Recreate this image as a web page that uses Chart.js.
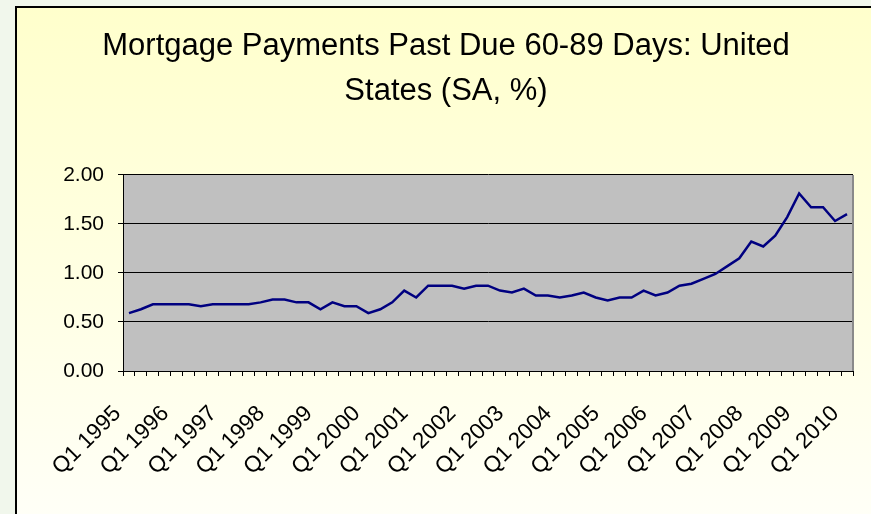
<!DOCTYPE html>
<html>
<head>
<meta charset="utf-8">
<script src="https://cdn.jsdelivr.net/npm/chart.js@4.4.1/dist/chart.umd.min.js"></script>
<style>
  html, body { margin: 0; padding: 0; }
  body { width: 871px; height: 514px; background: #f1f7ec; position: relative; overflow: hidden; }
  #frame {
    position: absolute; left: 15px; top: 6px;
    width: 870px; height: 520px;
    border-left: 2px solid #000; border-top: 2px solid #000;
    background: linear-gradient(#ffffcc, #fffff8);
  }
  #wrap { position: absolute; left: 0; top: 0; width: 854px; height: 506px; }
</style>
</head>
<body>
<div id="frame"><div id="wrap"><canvas id="lineChart"></canvas></div></div>
<script>
var years = [1995, 1996, 1997, 1998, 1999, 2000, 2001, 2002, 2003, 2004, 2005, 2006, 2007, 2008, 2009, 2010];
var quarters = ['Q1', 'Q2', 'Q3', 'Q4'];

// quarterly labels, Q1 1995 .. Q1 2010
var labels = [];
years.forEach(function (y) {
    quarters.forEach(function (q) {
        if (y < 2010 || q === 'Q1') labels.push(q + ' ' + y);
    });
});

// past due 60-89 days, SA, %
var pastDue = [
    0.59, 0.63, 0.68, 0.68, 0.68, 0.68, 0.66, 0.68, 0.68, 0.68,
    0.68, 0.70, 0.73, 0.73, 0.70, 0.70, 0.63, 0.70, 0.66, 0.66,
    0.59, 0.63, 0.70, 0.82, 0.75, 0.87, 0.87, 0.87, 0.84, 0.87,
    0.87, 0.82, 0.80, 0.84, 0.77, 0.77, 0.75, 0.77, 0.80, 0.75,
    0.72, 0.75, 0.75, 0.82, 0.77, 0.80, 0.87, 0.89, 0.94, 0.99,
    1.07, 1.15, 1.32, 1.27, 1.38, 1.57, 1.81, 1.67, 1.67, 1.53,
    1.60
];

var yTicks = [0, 0.5, 1, 1.5, 2];

Chart.defaults.font.family = "'Liberation Sans', Arial, sans-serif";
Chart.defaults.color = '#000';

// grey plot area like the spreadsheet original
var plotBg = {
    id: 'plotBg',
    beforeDraw: function (chart) {
        var a = chart.chartArea, ctx = chart.ctx;
        ctx.save();
        ctx.fillStyle = '#c0c0c0';
        ctx.fillRect(a.left, a.top, a.right - a.left, a.bottom - a.top);
        ctx.restore();
    },
    beforeDatasetsDraw: function (chart) {
        var a = chart.chartArea, ctx = chart.ctx;
        ctx.save();
        ctx.strokeStyle = '#8a8a8a';
        ctx.lineWidth = 2;
        ctx.beginPath();
        ctx.moveTo(a.right, a.top);
        ctx.lineTo(a.right, a.bottom);
        ctx.stroke();
        ctx.restore();
    }
};

var lineCtx = document.getElementById('lineChart').getContext('2d');
var lineChart = new Chart(lineCtx, {
    type: 'line',
    data: {
        labels: labels,
        datasets: [{
            label: 'Past due 60-89 days',
            data: pastDue,
            fill: false,
            borderColor: '#000080',
            borderWidth: 2.5,
            pointRadius: 0,
            tension: 0
        }]
    },
    options: {
        responsive: true,
        maintainAspectRatio: false,
        animation: false,
        layout: { padding: { left: 22, right: 18, top: 0, bottom: 0 } },
        plugins: {
            legend: { display: false },
            tooltip: { enabled: false },
            title: {
                display: true,
                text: ['Mortgage Payments Past Due 60-89 Days: United', 'States (SA, %)'],
                color: '#000',
                font: { size: 31, weight: 'normal', lineHeight: 1.45 },
                padding: { top: 15.7, bottom: 61.3 }
            }
        },
        scales: {
            x: {
                offset: true,
                grid: { offset: true, drawOnChartArea: false, tickLength: 5, color: '#000' },
                border: { color: '#000', width: 1 },
                ticks: {
                    autoSkip: false,
                    maxRotation: 45,
                    minRotation: 45,
                    padding: 24.4,
                    labelOffset: -11.5,
                    font: { size: 22.5 },
                    callback: function (val, i) {
                        return i % 4 === 0 ? this.getLabelForValue(val) : '';
                    }
                },
                afterFit: function (scale) {
                    scale.height = 143;
                    // labels hang left of their ticks, no side room needed
                    scale.paddingLeft = 0;
                    scale.paddingRight = 0;
                }
            },
            y: {
                min: 0,
                max: 2,
                afterBuildTicks: function (scale) {
                    scale.ticks = yTicks.map(function (v) { return { value: v }; });
                },
                grid: { color: '#000', tickLength: 5 },
                border: { color: '#000', width: 1 },
                ticks: {
                    padding: 14,
                    font: { size: 21 },
                    callback: function (v) { return Number(v).toFixed(2); }
                },
                afterFit: function (scale) { scale.width = 84; }
            }
        }
    },
    plugins: [plotBg]
});
</script>
</body>
</html>
